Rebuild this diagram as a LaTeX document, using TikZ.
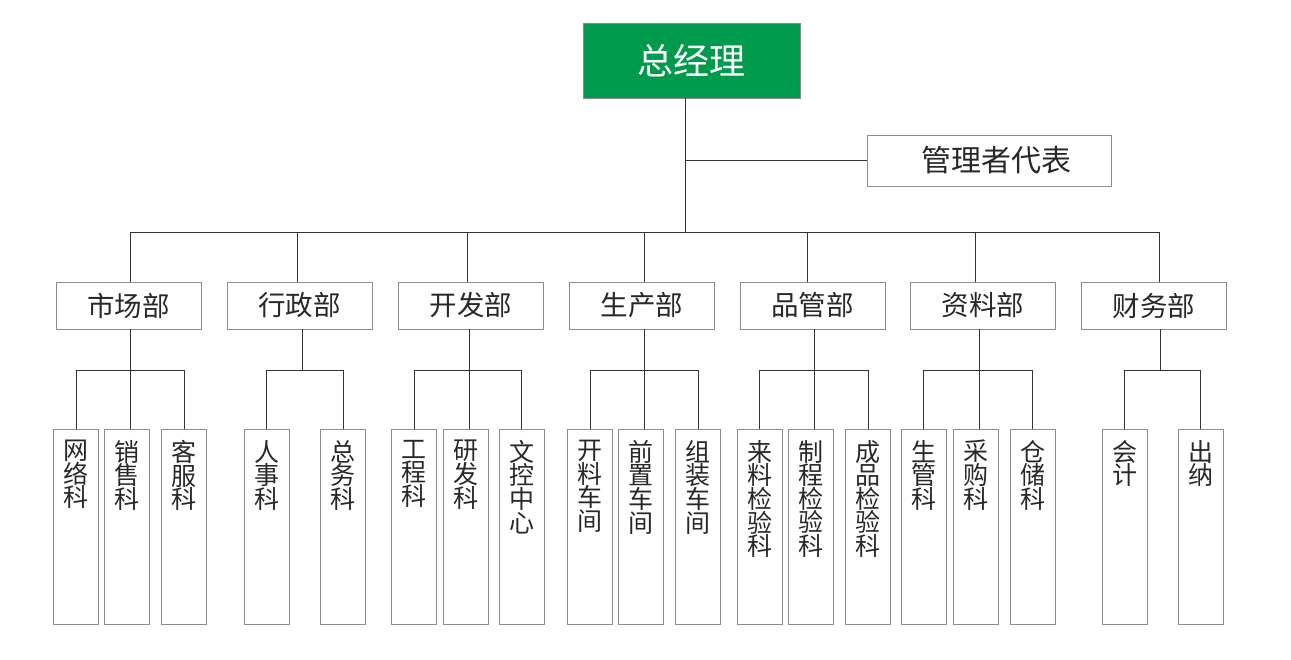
\documentclass[tikz,border=0pt]{standalone}
\usepackage{fontspec}
\setmainfont{Noto Sans CJK SC}
\definecolor{gmgreen}{RGB}{0,154,76}
\definecolor{boxgray}{RGB}{140,140,140}
\definecolor{linegray}{RGB}{51,51,51}
\definecolor{txtgray}{RGB}{40,40,40}
\newcommand{\vlabel}[1]{\parbox[c][195pt][t]{45pt}{\centering\vspace*{11pt}#1}}

\begin{document}
\begin{tikzpicture}[x=1pt,y=-1pt,every node/.style={shape=rectangle, inner sep=0pt, align=center, text=txtgray}]
		\tikzset{
			boss/.style = { draw=boxgray, fill=gmgreen, text=white, minimum width=217pt, minimum height=75pt, font=\fontsize{36}{36}\selectfont },
			deputy/.style = { draw=boxgray, minimum width=244pt, minimum height=51pt, font=\fontsize{30}{30}\selectfont },
			dept/.style = { draw=boxgray, minimum width=145pt, minimum height=47pt, font=\fontsize{27.5}{27.5}\selectfont },
			sect/.style = { draw=boxgray, anchor=north, font=\fontsize{25}{23.6}\selectfont },
			link/.style = { draw=linegray, line width=1pt },
		}
		\useasboundingbox (0,0) rectangle (1291,659);
		% top level
		\node[boss] (gm) at (691.5,60.5) {总经理};
		\node[deputy] (rep) at (989,160.5) {\hspace*{14pt}管理者代表};
		\coordinate (stem) at ([xshift=-6.5pt]gm.south);
		\coordinate (trunk) at (0,232);
		\coordinate (bus) at (0,370);
		% departments
		\node[dept] (d1) at (128.5,305.5) {市场部};
		\node[dept] (d2) at (299.5,305.5) {行政部};
		\node[dept] (d3) at (471,305.5) {开发部};
		\node[dept] (d4) at (642,305.5) {生产部};
		\node[dept] (d5) at (812.5,305.5) {品管部};
		\node[dept] (d6) at (983,305.5) {资料部};
		\node[dept] (d7) at (1154,305.5) {财务部};
		% sections
		\node[sect] (s11) at (76,429) {\vlabel{网\\络\\科}};
		\node[sect] (s12) at (127,429) {\vlabel{销\\售\\科}};
		\node[sect] (s13) at (184,429) {\vlabel{客\\服\\科}};
		\node[sect] (s21) at (266.5,429) {\vlabel{人\\事\\科}};
		\node[sect] (s22) at (343,429) {\vlabel{总\\务\\科}};
		\node[sect] (s31) at (414,429) {\vlabel{工\\程\\科}};
		\node[sect] (s32) at (465.5,429) {\vlabel{研\\发\\科}};
		\node[sect] (s33) at (521.5,429) {\vlabel{文\\控\\中\\心}};
		\node[sect] (s41) at (590,429) {\vlabel{开\\料\\车\\间}};
		\node[sect] (s42) at (641,429) {\vlabel{前\\置\\车\\间}};
		\node[sect] (s43) at (698,429) {\vlabel{组\\装\\车\\间}};
		\node[sect] (s51) at (759.5,429) {\vlabel{来\\料\\检\\验\\科}};
		\node[sect] (s52) at (810.5,429) {\vlabel{制\\程\\检\\验\\科}};
		\node[sect] (s53) at (868,429) {\vlabel{成\\品\\检\\验\\科}};
		\node[sect] (s61) at (923.5,429) {\vlabel{生\\管\\科}};
		\node[sect] (s62) at (975.5,429) {\vlabel{采\\购\\科}};
		\node[sect] (s63) at (1032.5,429) {\vlabel{仓\\储\\科}};
		\node[sect] (s71) at (1124.5,429) {\vlabel{会\\计}};
		\node[sect] (s72) at (1200.5,429) {\vlabel{出\\纳}};
		% where the lines meet the department boxes
		\foreach \i/\up/\dn in {1/1.5/1.5,2/-2.5/2.5,3/-4/-2,4/2/2,5/-5.5/1.5,6/-8/-4,7/5/6} {
			\coordinate (u\i) at ([xshift=\up pt]d\i.north);
			\coordinate (l\i) at ([xshift=\dn pt]d\i.south);
		}
		% connectors
		\draw[link] (gm.south -| stem) -- (stem |- trunk);
		\draw[link] (stem |- rep.west) -- (rep.west);
		\draw[link] (u1 |- trunk) -- (u7 |- trunk);
		\foreach \i in {1,...,7}
			\draw[link] (u\i |- trunk) -- (u\i);
		\foreach \i/\j in {1/3,2/2,3/3,4/3,5/3,6/3,7/2} {
			\draw[link] (l\i) -- (l\i |- bus);
			\draw[link] (s\i1.north) -- (s\i1.north |- bus) -| (s\i\j.north);
		}
		\foreach \i in {1,3,4,5,6}
			\draw[link] (l\i |- bus) -- (l\i |- s\i2.north);
\end{tikzpicture}
\end{document}
